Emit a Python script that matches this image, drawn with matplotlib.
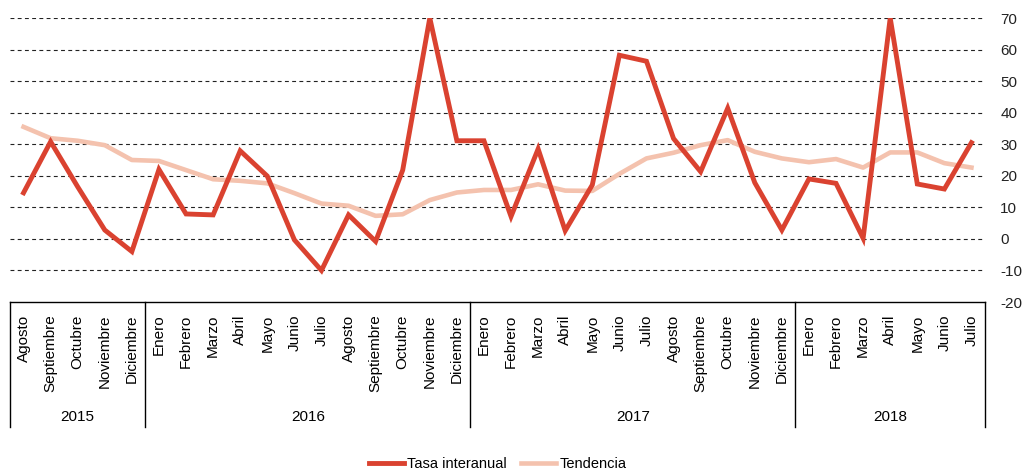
import numpy as np
import matplotlib
matplotlib.use("Agg")
import matplotlib.pyplot as plt
import matplotlib.transforms as mtransforms

plt.rcParams['font.family'] = ['Liberation Sans', 'DejaVu Sans']
plt.rcParams['axes.unicode_minus'] = False

# ---------------- data ----------------
months = ['Agosto', 'Septiembre', 'Octubre', 'Noviembre', 'Diciembre',
          'Enero', 'Febrero', 'Marzo', 'Abril', 'Mayo', 'Junio', 'Julio',
          'Agosto', 'Septiembre', 'Octubre', 'Noviembre', 'Diciembre',
          'Enero', 'Febrero', 'Marzo', 'Abril', 'Mayo', 'Junio', 'Julio',
          'Agosto', 'Septiembre', 'Octubre', 'Noviembre', 'Diciembre',
          'Enero', 'Febrero', 'Marzo', 'Abril', 'Mayo', 'Junio', 'Julio']
years = ['2015', '2016', '2017', '2018']
months_per_year = [5, 12, 12, 7]

tasa = [14.6, 30.8, 16.5, 2.8, -4.0,
        22.0, 7.9, 7.6, 27.9, 19.9, -0.3, -10.0, 7.6, -0.8, 21.8, 70.0, 31.1,
        31.1, 7.1, 28.5, 2.6, 17.1, 58.2, 56.3, 31.8, 21.3, 41.4, 17.8, 2.8,
        19.0, 17.6, 0.2, 70.0, 17.4, 15.8, 30.5]

tendencia = [35.5, 31.9, 31.1, 29.7, 25.0,
             24.7, 21.8, 18.9, 18.4, 17.6, 14.5, 11.2, 10.5, 7.3, 7.8, 12.3, 14.7,
             15.5, 15.5, 17.3, 15.3, 15.2, 20.6, 25.5, 27.3, 29.7, 31.3, 27.6, 25.5,
             24.3, 25.3, 22.6, 27.4, 27.4, 24.0, 22.6]

# ---------------- plot ----------------
fig = plt.figure(figsize=(10.26, 4.74), dpi=100)
ax = fig.add_axes([10/1026, 1 - 302/474, 975/1026, 284/474])

x = np.arange(len(months))
ax.plot(x, tasa, color='#DA4230', lw=3.5, label='Tasa interanual',
        solid_joinstyle='miter', zorder=3)
ax.plot(x, tendencia, color='#F4C2AE', lw=3.3, label='Tendencia', zorder=2)

ax.set_xlim(-0.5, len(months) - 0.5)
ax.set_ylim(-20, 70)
ax.set_yticks(np.arange(-20, 71, 10))
for v in range(-10, 71, 10):
    ax.axhline(v, color='#222222', lw=0.8, ls=(0, (3.5, 3)), zorder=1)

for s in ['top', 'left', 'right']:
    ax.spines[s].set_visible(False)
ax.spines['bottom'].set_color('black')
ax.spines['bottom'].set_linewidth(1.0)

ax.yaxis.tick_right()
ax.tick_params(axis='y', length=0, pad=11, labelsize=11, labelcolor='#222222')
ax.set_xticks(x)
ax.set_xticklabels(months, rotation=90, fontsize=11)
ax.tick_params(axis='x', length=0, pad=9)

# year groups
trans = mtransforms.blended_transform_factory(ax.transData, ax.transAxes)
edges = np.concatenate([[0], np.cumsum(months_per_year)]) - 0.5
for e in edges:
    ax.plot([e, e], [0, -0.44], color='black', lw=1.0, transform=trans,
            clip_on=False)
for i, yr in enumerate(years):
    mid = (edges[i] + edges[i + 1]) / 2
    ax.text(mid, -0.405, yr, transform=trans, ha='center', va='center',
            fontsize=11)

fig.legend(loc='center', bbox_to_anchor=(0.485, 0.021), ncol=2, frameon=False,
           fontsize=10.5, handlelength=2.4, handletextpad=0.2,
           columnspacing=1.0)

fig.savefig('out.png', dpi=100)
